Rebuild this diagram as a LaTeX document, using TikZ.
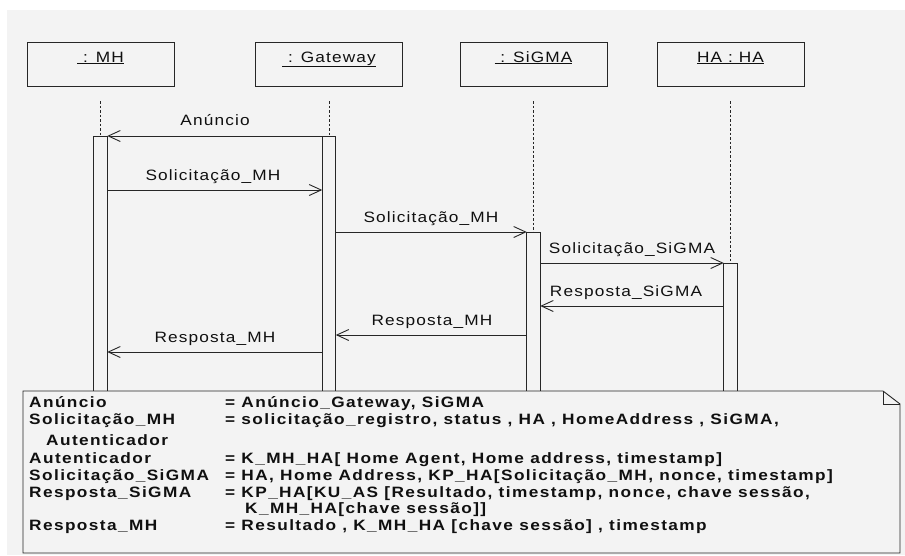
\documentclass[tikz,border=0pt]{standalone}
\usepackage{fontspec}
\usetikzlibrary{arrows.meta}
\setmainfont{Liberation Sans}
\newfontfamily\umlfont[FakeStretch=1.15,LetterSpace=7.7]{Liberation Sans}
\newfontfamily\notefont[FakeStretch=1.15,LetterSpace=9.4]{Liberation Sans}
\definecolor{paper}{HTML}{F3F3F3}
\definecolor{ink}{HTML}{262626}
\definecolor{txt}{HTML}{101010}
\begin{document}
\begin{tikzpicture}[x=1pt,y=-1pt,
  objbox/.style={draw=ink, line width=0.9pt, fill=paper, inner sep=0pt, outer sep=0pt,
    minimum width=147pt, minimum height=44pt},
  objname/.style={inner sep=0pt, anchor=base, text=txt, font=\umlfont\fontsize{15}{17}\selectfont},
  actbar/.style={draw=ink, line width=0.9pt, fill=paper, inner sep=0pt, outer sep=0pt,
    minimum width=13.5pt, anchor=north},
  lifeline/.style={draw=ink, line width=0.9pt, dash pattern=on 2.5pt off 2pt},
  msg/.style={draw=ink, line width=0.9pt, -{Straight Barb[length=12pt,width=11pt,line width=0.9pt]}},
  msglabel/.style={inner sep=0pt, anchor=base, text=txt, font=\umlfont\fontsize{15}{17}\selectfont},
  notekey/.style={inner sep=0pt, anchor=base west, text=txt, font=\notefont\bfseries\fontsize{15}{17}\selectfont},
  noteline/.style={draw=ink, line width=0.9pt, fill=paper}
]
\useasboundingbox (0,0) rectangle (905,555);
\fill[white] (0,0) rectangle (905,555);
\fill[paper] (7,10) rectangle (905,555);

% object boxes
\node[objbox] (mh) at (100.5,64) {};
\node[objbox] (gw) at (329,64) {};
\node[objbox] (sg) at (533.5,64) {};
\node[objbox] (ha) at (730.5,64) {};
\node[objname] (mhname) at ([yshift=-20pt]mh.north) {\underline{\ : MH}};
\node[objname] (gwname) at ([yshift=-20pt]gw.north) {\underline{\ : Gateway}};
\node[objname] (sgname) at ([yshift=-20pt]sg.north) {\underline{\ : SiGMA}};
\node[objname] (haname) at ([yshift=-20pt]ha.north) {\underline{HA : HA}};

% activation bars
\node[actbar, minimum height=255pt] (mhbar) at (100.5,136) {};
\node[actbar, minimum height=255pt] (gwbar) at (329,136) {};
\node[actbar, minimum height=159pt] (sgbar) at (533.5,232) {};
\node[actbar, minimum height=128pt] (habar) at (730.5,263) {};

% lifelines
\draw[lifeline] ([yshift=-15pt]mh.south) -- (mhbar.north);
\draw[lifeline] ([yshift=-15pt]gw.south) -- (gwbar.north);
\draw[lifeline] ([yshift=-15pt]sg.south) -- (sgbar.north);
\draw[lifeline] ([yshift=-15pt]ha.south) -- (habar.north);

% message rows
\coordinate (r1) at (0,136);
\coordinate (r2) at (0,190);
\coordinate (r3) at (0,232);
\coordinate (r4) at (0,263);
\coordinate (r5) at (0,306);
\coordinate (r6) at (0,335);
\coordinate (r7) at (0,352);

\draw[msg] (gwbar.west |- r1) -- (mhbar.east |- r1);
\draw[msg] (mhbar.east |- r2) -- (gwbar.west |- r2);
\draw[msg] (gwbar.east |- r3) -- (sgbar.west |- r3);
\draw[msg] (sgbar.east |- r4) -- (habar.west |- r4);
\draw[msg] (habar.west |- r5) -- (sgbar.east |- r5);
\draw[msg] (sgbar.west |- r6) -- (gwbar.east |- r6);
\draw[msg] (gwbar.west |- r7) -- (mhbar.east |- r7);

\node[msglabel] (l1) at (215,125) {Anúncio};
\node[msglabel] (l2) at (213,180) {Solicitação\_MH};
\node[msglabel] (l3) at (431,222) {Solicitação\_MH};
\node[msglabel] (l4) at (632,253) {Solicitação\_SiGMA};
\node[msglabel] (l5) at (626,296) {Resposta\_SiGMA};
\node[msglabel] (l6) at (432,325) {Resposta\_MH};
\node[msglabel] (l7) at (215,342) {Resposta\_MH};

% note with folded corner
\draw[noteline] (23,391) -- (883,391) -- (900,404) -- (900,553) -- (23,553) -- cycle;
\draw[draw=ink, line width=0.9pt] (883,391) -- (883,404) -- (900,404);

\node[notekey] (k1) at (29,407) {Anúncio};
\node[notekey] (v1) at (225,407) {= Anúncio\_Gateway, SiGMA};
\node[notekey] (k2) at (29,424) {Solicitação\_MH};
\node[notekey] (v2) at (225,424) {= solicitação\_registro, status , HA , HomeAddress , SiGMA,};
\node[notekey] (k2b) at (46,445) {Autenticador};
\node[notekey] (k3) at (29,463) {Autenticador};
\node[notekey] (v3) at (225,463) {= K\_MH\_HA[ Home Agent, Home address, timestamp]};
\node[notekey] (k4) at (29,480) {Solicitação\_SiGMA};
\node[notekey] (v4) at (225,480) {= HA, Home Address, KP\_HA[Solicitação\_MH, nonce, timestamp]};
\node[notekey] (k5) at (29,497) {Resposta\_SiGMA};
\node[notekey] (v5) at (225,497) {= KP\_HA[KU\_AS [Resultado, timestamp, nonce, chave sessão,};
\node[notekey] (v5b) at (245,513) {K\_MH\_HA[chave sessão]]};
\node[notekey] (k6) at (29,530) {Resposta\_MH};
\node[notekey] (v6) at (225,530) {= Resultado , K\_MH\_HA [chave sessão] , timestamp};
\end{tikzpicture}
\end{document}
